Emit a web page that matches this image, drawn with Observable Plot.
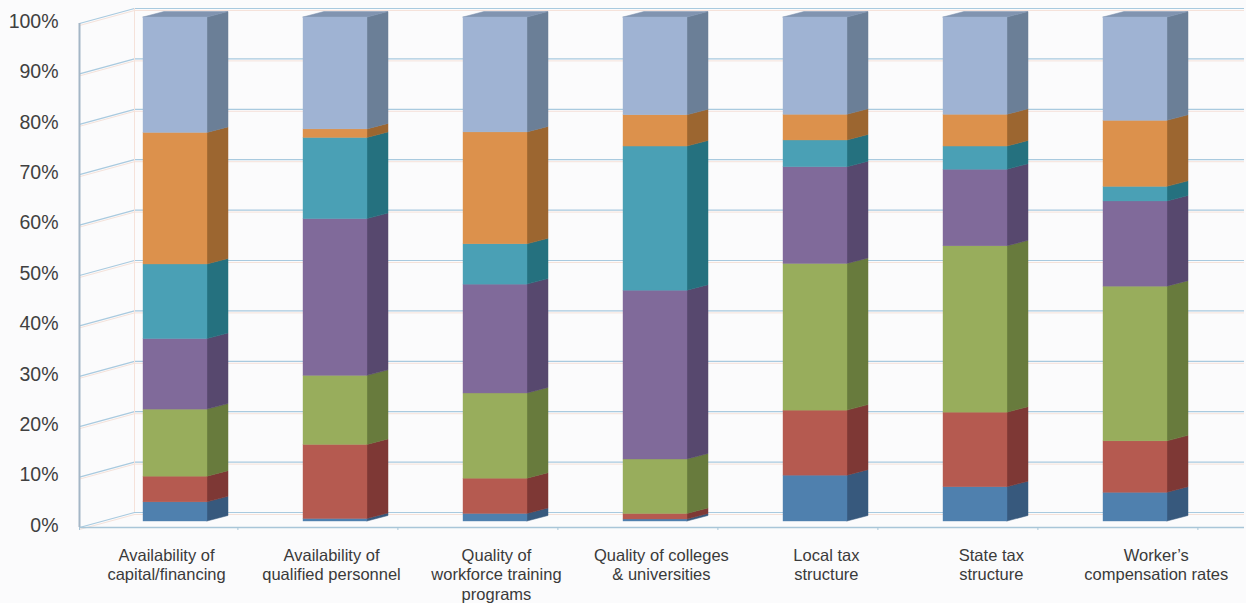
<!DOCTYPE html>
<html>
<head>
<meta charset="utf-8">
<script src="https://cdn.jsdelivr.net/npm/d3@7"></script>
<script src="https://cdn.jsdelivr.net/npm/@observablehq/plot@0.6"></script>
<style>
  html, body { margin: 0; padding: 0; background: #fbfbfc; }
  #chart { width: 1246px; height: 603px; }
</style>
</head>
<body>
<div id="chart"></div>
<script>
// ---------- data ----------
const categories = [
  "Availability of\ncapital/financing",
  "Availability of\nqualified personnel",
  "Quality of\nworkforce training\nprograms",
  "Quality of colleges\n& universities",
  "Local tax\nstructure",
  "State tax\nstructure",
  "Worker’s\ncompensation rates"
];
// stacked shares (%) from bottom to top
const series1 = [3.8, 0.5, 1.5, 0.4, 9.1, 6.8, 5.7];     // dark blue
const series2 = [5.1, 14.7, 7.0, 1.1, 12.9, 14.8, 10.2]; // red
const series3 = [13.3, 13.7, 16.9, 10.8, 29.1, 33.0, 30.7]; // green
const series4 = [14.0, 31.1, 21.6, 33.5, 19.2, 15.2, 16.9]; // purple
const series5 = [14.8, 16.1, 8.0, 28.6, 5.3, 4.6, 2.9];  // teal
const series6 = [26.1, 1.7, 22.2, 6.2, 5.1, 6.3, 13.1];  // orange
const series7 = [22.9, 22.2, 22.8, 19.4, 19.3, 19.3, 20.5]; // light blue
const yTicks = [0, 10, 20, 30, 40, 50, 60, 70, 80, 90, 100];
const yTickLabels = ["0%", "10%", "20%", "30%", "40%", "50%", "60%", "70%", "80%", "90%", "100%"];

// ---------- styles ----------
const frontColors = ["#4f80ae", "#b55a50", "#98ad5c", "#806a9a", "#4aa0b5", "#dc914c", "#9fb3d3"];
const sideColors  = ["#37597d", "#7e3835", "#687b3d", "#57486e", "#25717f", "#9c6630", "#6b7f97"];
const topColor = "#8194b0";

const allSeries = [series1, series2, series3, series4, series5, series6, series7];

// ---------- layout ----------
const W = 1246, H = 603, mT = 17, mB = 82, mL = 79, mR = 2;
const ppy = (H - mT - mB) / 100;   // px per percent
const ppx = 160;                     // px per category step
const firstCenter = 175;             // px of first bar's front-face centre
const xDomain = [(mL - firstCenter) / ppx, (W - mR - firstCenter) / ppx];
const hw = 32 / ppx;                 // half front width
const dX = 21 / ppx, dY = 5.5 / ppy; // bar depth
const axisX = xDomain[0];
const wallX = axisX + 55 / ppx;
const frontDY = -6 / ppy, wallDY = 9 / ppy;
const rightX = xDomain[1];

// ---------- derived tables ----------
const rows = [];
categories.forEach((c, i) => {
  const vals = allSeries.map(s => s[i]);
  const total = d3.sum(vals);
  let acc = 0;
  vals.forEach((v, j) => {
    const y0 = acc / total * 100;
    acc += v;
    const y1 = acc / total * 100;
    rows.push({i, j, y0, y1, front: frontColors[j], side: sideColors[j], key: i + "-" + j});
  });
});
const sidePts = rows.flatMap(r => [
  {x: r.i + hw, lo: r.y0, hi: r.y1, key: r.key, color: r.side},
  {x: r.i + hw + dX, lo: r.y0 + dY, hi: r.y1 + dY, key: r.key, color: r.side}
]);
const topPts = categories.flatMap((c, i) => [
  {y: 100, lo: i - hw, hi: i + hw, key: i},
  {y: 100 + dY, lo: i - hw + dX, hi: i + hw + dX, key: i}
]);
const catIdx = categories.map((c, i) => ({c, i}));

const gridBlue = "#a9cadf";
const gridPink = "#f5e2da";

const chart = Plot.plot({
  width: W, height: H,
  marginTop: mT, marginBottom: mB, marginLeft: mL, marginRight: mR,
  x: {type: "linear", domain: xDomain, axis: null},
  y: {type: "linear", domain: [0, 100], axis: null},
  color: {type: "identity"},
  style: {background: "transparent", fontFamily: "'Liberation Sans', Arial, sans-serif", overflow: "visible"},
  marks: [
    // pink shadow lines
    Plot.ruleY(yTicks, {y: d => d + wallDY, x1: wallX, x2: rightX, stroke: gridPink, strokeWidth: 1, dy: 2}),
    Plot.link(yTicks, {x1: axisX, y1: d => d + frontDY, x2: wallX, y2: d => d + wallDY, stroke: gridPink, strokeWidth: 1, dy: 2}),
    // back wall grid
    Plot.ruleY(yTicks, {y: d => d + wallDY, x1: wallX, x2: rightX, stroke: gridBlue, strokeWidth: 1.2}),
    // left wall grid
    Plot.link(yTicks, {x1: axisX, y1: d => d + frontDY, x2: wallX, y2: d => d + wallDY, stroke: gridBlue, strokeWidth: 1.2}),
    // back wall left edge
    Plot.ruleX([wallX], {y1: wallDY, y2: 100 + wallDY, stroke: gridPink, strokeWidth: 1}),
    // floor front edge
    Plot.ruleY([frontDY], {x1: axisX, x2: rightX, stroke: "#a9c6d8", strokeWidth: 1.5}),
    // front vertical axis
    Plot.ruleX([axisX], {y1: frontDY, y2: 100 + frontDY, stroke: "#a4b6c6", strokeWidth: 2}),
    // small ticks on floor edge
    Plot.ruleX(catIdx, {x: d => d.i + 0.39, y1: frontDY, y2: frontDY - 0.6, stroke: "#a9c6d8", strokeWidth: 1}),
    Plot.ruleX([axisX], {y1: frontDY, y2: frontDY - 0.6, stroke: "#a9c6d8", strokeWidth: 1}),
    // bars: side faces
    Plot.areaY(sidePts, {x: "x", y1: "lo", y2: "hi", z: "key", fill: "color", stroke: "color", strokeWidth: 0.5}),
    // bars: top faces
    Plot.areaX(topPts, {y: "y", x1: "lo", x2: "hi", z: "key", fill: topColor, stroke: topColor, strokeWidth: 0.5}),
    // bars: front faces
    Plot.rect(rows, {x1: d => d.i - hw, x2: d => d.i + hw, y1: "y0", y2: "y1", fill: "front", stroke: "front", strokeWidth: 0.4}),
    // y tick labels
    Plot.text(yTicks, {x: axisX, y: d => d, text: (d, k) => yTickLabels[k], textAnchor: "end", dx: -21, dy: 4, fontSize: 19.5, fill: "#404040"}),
    // category labels
    Plot.text(catIdx, {x: d => d.i * 1.031 - 0.056, y: 0, text: "c", lineAnchor: "top", dy: 25, fontSize: 16.5, lineHeight: 1.2, fill: "#3a3a3a"})
  ]
});
document.getElementById("chart").append(chart);
</script>
</body>
</html>
